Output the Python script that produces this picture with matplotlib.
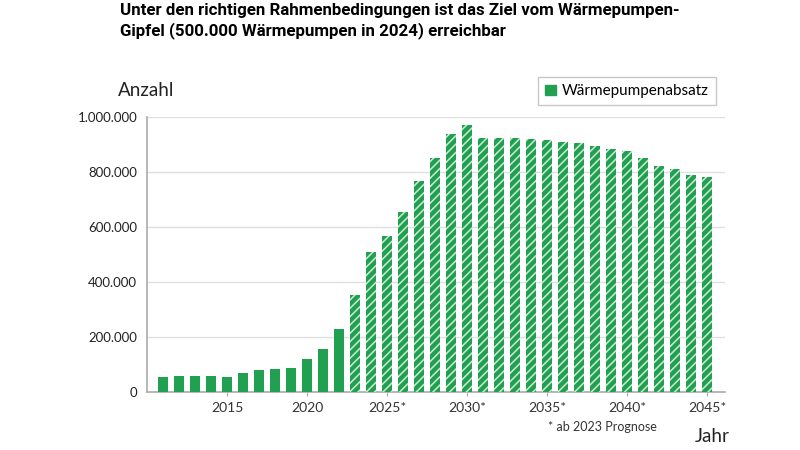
import matplotlib.pyplot as plt
from matplotlib.patches import Patch

plt.rcParams['font.family'] = ['Lato', 'DejaVu Sans']
plt.rcParams['hatch.linewidth'] = 1.1

# Wärmepumpenabsatz pro Jahr (ab 2023 Prognose)
jahre = list(range(2011, 2046))
absatz = [56000, 58000, 58000, 58000, 56000, 69000, 79000, 84000, 87000, 121000,
          155000, 230000, 353000, 508000, 566000, 653000, 767000, 852000, 937000, 970000,
          924000, 924000, 924000, 919000, 915000, 910000, 904000, 893000, 885000, 875000,
          851000, 821000, 812000, 789000, 783000]
prognose_ab = 2023
y_ticks = [0, 200000, 400000, 600000, 800000, 1000000]
x_ticks = [2015, 2020, 2025, 2030, 2035, 2040, 2045]

gruen = '#22a052'

fig = plt.figure(figsize=(8, 4.5), dpi=100)
ax = fig.add_axes([147 / 800, 1 - 392 / 450, (725 - 147) / 800, (392 - 117) / 450])

ist_j = [j for j in jahre if j < prognose_ab]
ist_w = [w for j, w in zip(jahre, absatz) if j < prognose_ab]
prog_j = [j for j in jahre if j >= prognose_ab]
prog_w = [w for j, w in zip(jahre, absatz) if j >= prognose_ab]

ax.bar(ist_j, ist_w, width=0.62, color=gruen, linewidth=0, zorder=3)
ax.bar(prog_j, prog_w, width=0.62, color=gruen, edgecolor='#cdebd5', linewidth=0,
       hatch='////', zorder=3)

ax.set_xlim(2010, 2046.1)
ax.set_ylim(0, 1000000)
ax.set_yticks(y_ticks)
ax.set_yticklabels([f'{v:,}'.replace(',', '.') for v in y_ticks], fontsize=9.5, color='#222222')
ax.set_xticks(x_ticks)
ax.set_xticklabels([str(x) if x < prognose_ab else f'{x}*' for x in x_ticks],
                   fontsize=10, color='#333333')
ax.tick_params(axis='y', length=0, pad=7)
ax.tick_params(axis='x', length=3, color='#aaaaaa', pad=4)

ax.grid(axis='y', color='#e0e0e0', linewidth=1, zorder=0)
for s in ['top', 'right']:
    ax.spines[s].set_visible(False)
for s in ['left', 'bottom']:
    ax.spines[s].set_color('#aaaaaa')
    ax.spines[s].set_linewidth(1.2)

leg = ax.legend(handles=[Patch(color=gruen, label='Wärmepumpenabsatz')],
                loc='upper right', bbox_to_anchor=(0.997, 1.172), fontsize=11,
                frameon=True, fancybox=False, handlelength=0.7, handleheight=0.7,
                handletextpad=0.4, borderpad=0.45)
leg.get_frame().set_edgecolor('#bbbbbb')
leg.get_frame().set_linewidth(1)

fig.text(118 / 800, 1 - 91 / 450, 'Anzahl', fontsize=13.5, color='#222222', va='center')
fig.text(695 / 800, 1 - 436 / 450, 'Jahr', fontsize=13.5, color='#222222', va='center')
fig.text(548 / 800, 1 - 427 / 450, '* ab 2023 Prognose', fontsize=9, color='#333333', va='center')

fig.text(120 / 800, 1 - 3 / 450,
         'Unter den richtigen Rahmenbedingungen ist das Ziel vom Wärmepumpen-\n'
         'Gipfel (500.000 Wärmepumpen in 2024) erreichbar',
         fontsize=12.2, fontweight='bold', va='top', linespacing=1.3,
         family=['Roboto', 'DejaVu Sans'])

fig.savefig('out.png', dpi=100)
